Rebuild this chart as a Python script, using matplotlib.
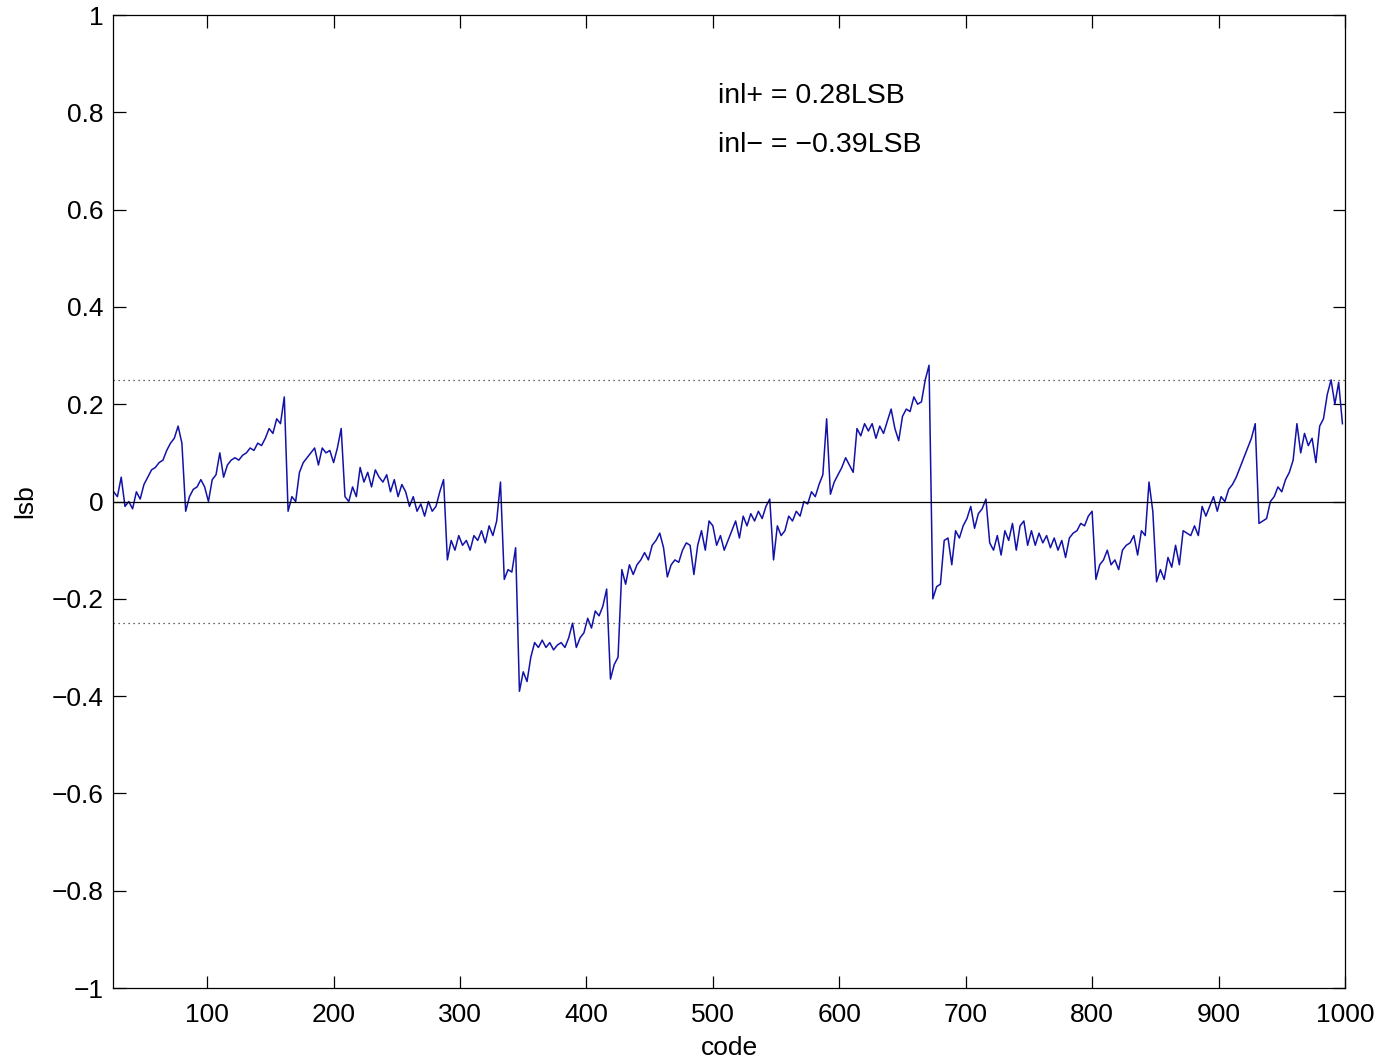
import numpy as np
import matplotlib
matplotlib.use("Agg")
import matplotlib.pyplot as plt
from matplotlib.ticker import FuncFormatter

plt.rcParams['font.family'] = ['Liberation Sans', 'DejaVu Sans']

# codes sampled every 3 steps from 26 to 998
code = np.arange(26, 999, 3)

# integral nonlinearity per code, in LSB
seg_a = [0.02, 0.01, 0.05, -0.01, 0.00, -0.015, 0.02, 0.005, 0.035, 0.05,
         0.065, 0.07, 0.08, 0.085, 0.105, 0.12, 0.13, 0.155, 0.12]
seg_b = [-0.02, 0.01, 0.025, 0.03, 0.045, 0.03, 0.00, 0.045, 0.055, 0.10,
         0.05, 0.075, 0.085, 0.09, 0.085, 0.095, 0.10, 0.11, 0.105, 0.12,
         0.115, 0.13, 0.15, 0.14, 0.17, 0.16, 0.215]
seg_c = [-0.02, 0.01, 0.00, 0.06, 0.08, 0.09, 0.10, 0.11, 0.075, 0.11,
         0.10, 0.105, 0.08, 0.11, 0.15]
seg_d = [0.01, 0.00, 0.03, 0.01, 0.07, 0.04, 0.06, 0.03, 0.065, 0.05,
         0.04, 0.055, 0.02, 0.045, 0.01, 0.035, 0.02, -0.01, 0.01, -0.02,
         -0.005, -0.03, 0.00, -0.02, -0.01, 0.02, 0.045]
seg_e = [-0.12, -0.08, -0.10, -0.07, -0.09, -0.08, -0.10, -0.07, -0.08, -0.06,
         -0.085, -0.05, -0.07, -0.04, 0.04,
         -0.16, -0.14, -0.145, -0.095]
seg_f = [-0.39, -0.35, -0.37, -0.32, -0.29, -0.30, -0.285, -0.30, -0.29, -0.305,
         -0.295, -0.29, -0.30, -0.28, -0.25, -0.30, -0.28, -0.27, -0.24, -0.26,
         -0.225, -0.235, -0.215, -0.18]
seg_g = [-0.365, -0.335, -0.32,
         -0.14, -0.17, -0.13, -0.15, -0.13, -0.12, -0.105, -0.12, -0.09, -0.08,
         -0.065, -0.095,
         -0.155, -0.13, -0.12, -0.125, -0.10, -0.085, -0.09, -0.15, -0.09, -0.06,
         -0.10, -0.04, -0.05, -0.09, -0.07, -0.10, -0.08, -0.06, -0.04, -0.075,
         -0.03, -0.05, -0.025, -0.04, -0.02, -0.035, -0.01, 0.005]
seg_h = [-0.12, -0.05, -0.07, -0.06, -0.03, -0.04, -0.02, -0.03, 0.00, -0.005,
         0.02, 0.01, 0.035, 0.055, 0.17]
seg_i = [0.015, 0.04, 0.055, 0.07, 0.09, 0.075, 0.06,
         0.15, 0.135, 0.16, 0.145, 0.16, 0.13, 0.155, 0.14, 0.165, 0.19,
         0.15, 0.125, 0.175, 0.19, 0.185, 0.215, 0.20, 0.205, 0.25, 0.28]
seg_j = [-0.20, -0.175, -0.17, -0.08, -0.075, -0.13, -0.06, -0.075, -0.05, -0.035,
         -0.01, -0.055, -0.025, -0.015, 0.005, -0.085]
seg_k = [-0.10, -0.07, -0.11, -0.06, -0.08, -0.045, -0.10, -0.05, -0.04, -0.09,
         -0.06, -0.09, -0.065, -0.085, -0.07, -0.095, -0.075, -0.10, -0.08, -0.115,
         -0.075, -0.065, -0.06, -0.045, -0.05, -0.03, -0.02]
seg_l = [-0.16, -0.13, -0.12, -0.10, -0.13, -0.12, -0.14, -0.10, -0.09, -0.085,
         -0.07, -0.11, -0.06, -0.07, 0.04, -0.02]
seg_m = [-0.165, -0.14, -0.16, -0.115, -0.135, -0.09, -0.13, -0.06, -0.065, -0.07,
         -0.05, -0.07, -0.01, -0.03, -0.01, 0.01, -0.02, 0.01, 0.00, 0.025,
         0.035, 0.05, 0.07, 0.09, 0.11, 0.13, 0.16]
seg_n = [-0.045, -0.04, -0.035, 0.0, 0.01, 0.03, 0.02, 0.045, 0.06, 0.085,
         0.16, 0.10, 0.14, 0.115, 0.13, 0.08, 0.155, 0.17, 0.22, 0.25,
         0.20, 0.245, 0.16]

inl = np.array(seg_a + seg_b + seg_c + seg_d + seg_e + seg_f + seg_g + seg_h
               + seg_i + seg_j + seg_k + seg_l + seg_m + seg_n)

limit = 0.25
x_ticks = [100, 200, 300, 400, 500, 600, 700, 800, 900, 1000]
y_ticks = [-1, -0.8, -0.6, -0.4, -0.2, 0, 0.2, 0.4, 0.6, 0.8, 1]

fig = plt.figure(figsize=(13.83, 10.64), dpi=100)
ax = fig.add_axes([0.0817, 0.0714, 0.8908, 0.9145])

ax.plot(code, inl, color='#1212a8', linewidth=1.1)
ax.axhline(0, color='black', linewidth=0.9)
ax.axhline(limit, color='#333333', linewidth=0.9, linestyle=(0, (1, 3)))
ax.axhline(-limit, color='#333333', linewidth=0.9, linestyle=(0, (1, 3)))

ax.set_xlim(25.5, 1000)
ax.set_ylim(-1, 1)
ax.set_xticks(x_ticks)
ax.set_yticks(y_ticks)


def fmt(v, pos):
    s = f"{v:g}"
    return s.replace('-', '\u2212')


ax.xaxis.set_major_formatter(FuncFormatter(fmt))
ax.yaxis.set_major_formatter(FuncFormatter(fmt))
ax.tick_params(direction='in', length=9, width=0.9, top=True, right=True,
               labelsize=19)
ax.tick_params(axis='x', pad=11)
ax.tick_params(axis='y', pad=7)
for sp in ax.spines.values():
    sp.set_linewidth(0.9)

ax.set_xlabel('code', fontsize=19, labelpad=6)
ax.set_ylabel('lsb', fontsize=19, labelpad=10)

ax.text(504, 0.833, f'inl+ = {inl.max():.2f}LSB', fontsize=20.5, va='center')
ax.text(504, 0.733, f'inl\u2212 = \u2212{abs(inl.min()):.2f}LSB', fontsize=20.5, va='center')

fig.savefig('out.png', dpi=100)
